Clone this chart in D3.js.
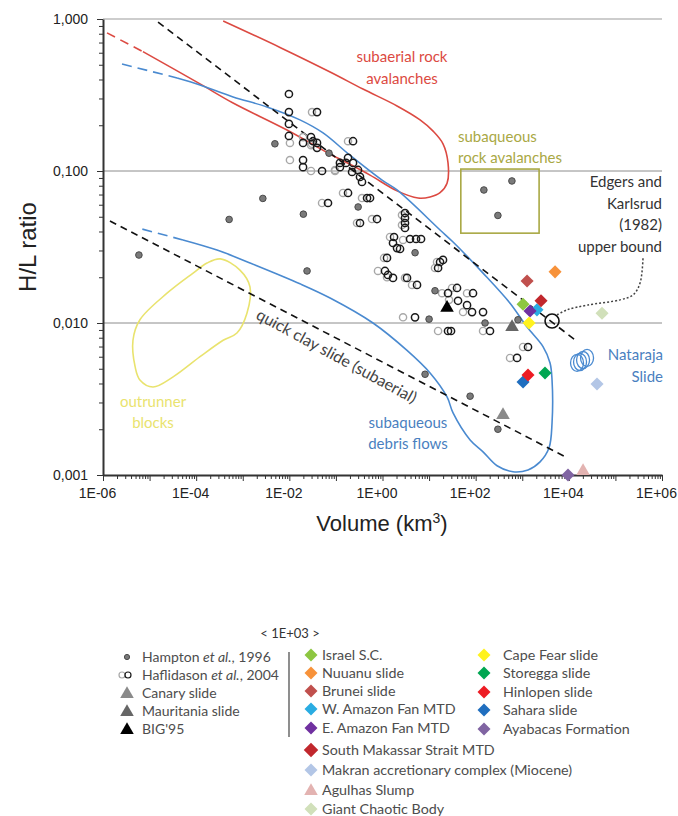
<!DOCTYPE html>
<html>
<head>
<meta charset="utf-8">
<script src="https://cdn.jsdelivr.net/npm/d3@7"></script>
<style>
  body { margin: 0; background: #fff; }
  svg text { font-family: "Lato", "Open Sans", sans-serif; }
</style>
</head>
<body>
<svg width="678" height="816"></svg>
<script>

// ---- data (volume in km3, H/L ratio) ----
let hampton = [
  [5.9e-6, 0.028], [5.1e-4, 0.048], [2.7e-3, 0.066], [4.9e-3, 0.151], [0.020, 0.052],
  [0.024, 0.022], [0.071, 0.131], [0.30, 0.058], [5.0, 0.029], [10, 0.0106],
  [13.4, 0.0163], [159, 0.0100], [810, 0.0105], [8.2, 0.0046], [76, 0.0033],
  [300, 0.0020], [600, 0.086], [150, 0.075], [300, 0.051]
];

let hafDark = [
  [0.0098, 0.321], [0.0098, 0.244], [0.0098, 0.204], [0.0098, 0.170],
  [0.0393, 0.244], [0.0292, 0.167], [0.0322, 0.157], [0.0197, 0.153], [0.0393, 0.153], [0.0393, 0.142],
  [0.0197, 0.118], [0.0197, 0.106], [0.0504, 0.100], [0.122, 0.106], [0.233, 0.157], [0.0676, 0.0616],
  [0.122, 0.113], [0.165, 0.113], [0.182, 0.122], [0.233, 0.113], [0.222, 0.0985], [0.298, 0.1016],
  [0.329, 0.0914], [0.363, 0.0847], [0.182, 0.0717], [0.466, 0.0664], [0.540, 0.0664], [0.762, 0.0483],
  [0.329, 0.0455], [3.04, 0.0529], [3.04, 0.0491], [3.04, 0.0455], [3.04, 0.0422],
  [1.77, 0.0368], [3.90, 0.0357], [5.25, 0.0357], [6.72, 0.0357], [1.68, 0.0336], [2.05, 0.0311], [2.38, 0.0307],
  [1.25, 0.0268], [15.6, 0.0230], [17.2, 0.0252], [19.9, 0.0260], [1.13, 0.0220], [1.31, 0.0207],
  [1.68, 0.0198], [3.36, 0.0198], [5.51, 0.0178], [25.5, 0.0157], [39.8, 0.0170], [87.7, 0.0157],
  [41.8, 0.0140], [65.3, 0.0131], [83.6, 0.0118], [144, 0.0118], [4.99, 0.0109],
  [25.5, 0.00886], [29.6, 0.00886], [203, 0.00886], [1330, 0.00695], [773, 0.00589]
];

let hafLight = [
  [0.0307, 0.244], [0.0197, 0.167], [0.0292, 0.148], [0.0103, 0.153], [0.0307, 0.151], [0.0103, 0.118],
  [0.0292, 0.100], [0.0957, 0.100], [0.182, 0.157], [0.0504, 0.0616], [0.0957, 0.1016], [0.142, 0.0717],
  [0.363, 0.0664], [0.595, 0.0483], [0.284, 0.0455], [2.62, 0.0513], [2.62, 0.0441], [1.45, 0.0368],
  [2.76, 0.0352], [1.08, 0.0268], [13.4, 0.0230], [14.8, 0.0252], [0.80, 0.0220], [3.04, 0.0198],
  [4.31, 0.0178], [19.0, 0.0157], [31.1, 0.0170], [65.3, 0.0157], [26.8, 0.0142], [53.6, 0.0118],
  [2.76, 0.0109], [15.6, 0.00886], [144, 0.00886], [1040, 0.00695], [547, 0.00589], [1.25, 0.0200]
];

let triNames = ["Canary slide", "Mauritania slide", "BIG'95"];
let triVolume = [386, 604, 24.3];
let triRatio = [0.00248, 0.00941, 0.0126];

let slideNames = ["Israel S.C.", "Nuuanu slide", "Brunei slide", "W. Amazon Fan MTD", "E. Amazon Fan MTD",
  "South Makassar Strait MTD", "Makran accretionary complex (Miocene)", "Agulhas Slump", "Giant Chaotic Body",
  "Cape Fear slide", "Storegga slide", "Hinlopen slide", "Sahara slide", "Ayabacas Formation"];
let slideVolume = [1040, 5060, 1270, 2070, 1470, 2530, 40300, 20200, 51600, 1400, 3080, 1330, 1040, 9600];
let slideRatio = [0.0133, 0.0217, 0.0189, 0.0122, 0.0120, 0.0140, 0.00397, 0.00103, 0.0116,
  0.0100, 0.00469, 0.00455, 0.00409, 0.0010];

let edgersPoint = [4360, 0.0103];
let natarajaVolume = [15000, 17400, 20200, 24600];
let natarajaRatio = [0.00546, 0.00554, 0.00571, 0.00589];

// envelopes and bounds
let edgersBound = [[1.52e-5, 0.955], [15700, 0.0075]];
let quickClay = [[1.41e-6, 0.0469], [9620, 0.00129]];
let rockDashed = [[1.22e-6, 0.81], [7.2e-6, 0.61]];
let rockOutline = [[7.2e-6, 0.61], [1.21e-4, 0.374], [6.2e-4, 0.28], [8.9e-3, 0.186], [0.075, 0.129],
  [0.157, 0.115], [0.54, 0.094], [2.05, 0.074], [5.8, 0.0664], [10.5, 0.0675], [17.2, 0.072],
  [24.3, 0.083], [25.5, 0.113], [19.9, 0.151], [12.2, 0.183], [6.4, 0.217], [2.05, 0.268],
  [0.38, 0.346], [0.075, 0.448], [6.3e-3, 0.65], [3.8e-4, 0.97]];
let debrisDashedTop = [[2.56e-6, 0.506], [3.9e-5, 0.409]];
let debrisDashedBottom = [[5.2e-5, 0.0352], [5.6e-6, 0.0422]];
let debrisOutline = [[3.9e-5, 0.409], [1.21e-4, 0.368], [6.2e-4, 0.307], [3.3e-3, 0.264], [1.69e-2, 0.217],
  [5.3e-2, 0.178], [0.20, 0.127], [0.98, 0.087], [2.05, 0.075], [17.2, 0.0409], [32.7, 0.0341],
  [144, 0.0213], [547, 0.0135], [1270, 0.0094], [2790, 0.0070], [3950, 0.00546], [4360, 0.00422],
  [4360, 0.0022], [3760, 0.00151], [2410, 0.00122], [1330, 0.00108], [634, 0.00105], [288, 0.00115],
  [144, 0.00142], [76, 0.0017], [32.7, 0.00256], [24.3, 0.00326], [10.5, 0.00469], [3.36, 0.0066],
  [0.625, 0.0100], [0.075, 0.0146], [1.69e-2, 0.0181], [1.43e-3, 0.0248], [2.8e-4, 0.0302], [5.2e-5, 0.0352]];
let outrunner = [[3.3e-4, 0.0264], [8.7e-4, 0.0223], [1.43e-3, 0.0173], [1.23e-3, 0.0116], [7.5e-4, 0.0086],
  [3.8e-4, 0.0077], [1.21e-4, 0.0060], [3.2e-5, 0.00442], [1.18e-5, 0.00379], [6.2e-6, 0.00422],
  [4.9e-6, 0.00514], [4.4e-6, 0.0077], [6.2e-6, 0.0105], [2.37e-5, 0.0157], [8.6e-5, 0.0213], [1.71e-4, 0.0248]];
let rockBox = [[48, 0.103], [2300, 0.039]];
let edgersLeader = [[5580, 0.0113], [9140, 0.0122], [24600, 0.0131], [125600, 0.0142], [239000, 0.0153],
  [338000, 0.0183], [392000, 0.0272]];

let yTickLabels = ["0,001", "0,010", "0,100", "1,000"];
let xTickLabels = ["1E-06", "1E-04", "1E-02", "1E+00", "1E+02", "1E+04", "1E+06"];

// ---- styles ----
let slideColors = ["#8dc641", "#f7923a", "#c0504d", "#2aace2", "#7030a0", "#c1272d", "#b3c6e6",
  "#e3b3b1", "#d1e0ba", "#fff21e", "#00a651", "#ed1c24", "#1f6ebf", "#8064a2"];
let triColors = ["#8a8a8a", "#666", "#000"];
let drawOrder = [0, 1, 2, 3, 4, 5, 6, 7, 8, 9, 10, 12, 11, 13];
let red = "#dc4a42", blue = "#4a8ad0", olive = "#a9a844", yellow = "#e9e36e";

let svg = d3.select("svg");
let x = d3.scaleLog().domain([1e-6, 1e6]).range([103, 662]);
let y = d3.scaleLog().domain([0.001, 1]).range([475, 19]);
let line = d3.line().x(d => x(d[0])).y(d => y(d[1]));
let smooth = d3.line().x(d => x(d[0])).y(d => y(d[1])).curve(d3.curveCatmullRom.alpha(0.5));

let isDecade = d => Math.abs(Math.log10(d) - Math.round(Math.log10(d))) < 1e-9;
let minorTicks = (lo, hi) => {
  let t = [];
  for (let e = lo; e < hi; e++) for (let m = 1; m < 10; m++) t.push(m * Math.pow(10, e));
  t.push(Math.pow(10, hi));
  return t;
};

// gridlines
svg.append("g").selectAll("line")
  .data([0.01, 0.1, 1])
  .enter().append("line")
    .attr("x1", x(1e-6)).attr("x2", x(1e6))
    .attr("y1", d => y(d)).attr("y2", d => y(d))
    .attr("stroke", d => d === 1 ? "#bdbdbd" : "#8c8c8c")
    .attr("stroke-width", d => d === 1 ? 1.6 : 1);

// axes
let yAxis = svg.append("g")
  .attr("transform", "translate(" + x(1e-6) + ",0)")
  .call(d3.axisLeft(y).tickValues(minorTicks(-3, 0)).tickSizeInner(4).tickSizeOuter(0)
    .tickPadding(11)
    .tickFormat(d => isDecade(d) ? yTickLabels[Math.round(Math.log10(d)) + 3] : ""));
yAxis.selectAll(".tick line").attr("x2", d => isDecade(d) ? -6 : -4);

let xAxis = svg.append("g")
  .attr("transform", "translate(0," + y(0.001) + ")")
  .call(d3.axisBottom(x).tickValues(minorTicks(-6, 6)).tickSizeInner(4).tickSizeOuter(0)
    .tickPadding(9)
    .tickFormat(d => isDecade(d) && Math.round(Math.log10(d)) % 2 === 0 ? xTickLabels[(Math.round(Math.log10(d)) + 6) / 2] : ""));
xAxis.selectAll(".tick line").attr("y2", d => isDecade(d) ? 6 : 4);
xAxis.selectAll(".tick text").attr("dx", -6);

[xAxis, yAxis].forEach(a => {
  a.select(".domain").attr("stroke", "#333").attr("stroke-width", 2);
  a.selectAll(".tick line").attr("stroke", "#333");
  a.selectAll(".tick text").attr("font-size", 14).attr("fill", "#222")
    .style("font-family", "'Liberation Sans', sans-serif");
});

svg.append("text")
  .attr("transform", "translate(36,247) rotate(-90)")
  .attr("text-anchor", "middle")
  .attr("font-size", 24).attr("fill", "#222")
  .style("font-family", "'Liberation Sans', sans-serif")
  .text("H/L ratio");

let xt = svg.append("text")
  .attr("x", 382).attr("y", 531)
  .attr("text-anchor", "middle")
  .attr("font-size", 22).attr("fill", "#222")
  .style("font-family", "'Liberation Sans', sans-serif");
xt.append("tspan").text("Volume (km");
xt.append("tspan").attr("dy", -8).attr("font-size", 14).text("3");
xt.append("tspan").attr("dy", 8).text(")");

// envelopes
let env = svg.append("g").attr("fill", "none");
env.append("path").attr("d", smooth(rockOutline)).attr("stroke", red).attr("stroke-width", 1.6);
env.append("path").attr("d", line(rockDashed)).attr("stroke", red).attr("stroke-width", 1.6)
  .attr("stroke-dasharray", "9,6");
env.append("path").attr("d", smooth(debrisOutline)).attr("stroke", blue).attr("stroke-width", 1.6);
env.append("path").attr("d", line(debrisDashedTop)).attr("stroke", blue).attr("stroke-width", 1.6)
  .attr("stroke-dasharray", "10,6");
env.append("path").attr("d", line(debrisDashedBottom)).attr("stroke", blue).attr("stroke-width", 1.6)
  .attr("stroke-dasharray", "10,6");
env.append("path").attr("d", d3.line().x(d => x(d[0])).y(d => y(d[1]))
    .curve(d3.curveCatmullRomClosed.alpha(0.5))(outrunner))
  .attr("stroke", yellow).attr("stroke-width", 1.6);
env.append("path").attr("d", line(edgersBound)).attr("stroke", "#111").attr("stroke-width", 1.6)
  .attr("stroke-dasharray", "7,5");
env.append("path").attr("d", line(quickClay)).attr("stroke", "#111").attr("stroke-width", 1.6)
  .attr("stroke-dasharray", "7,5");
env.append("rect")
  .attr("x", x(rockBox[0][0])).attr("y", y(rockBox[0][1]))
  .attr("width", x(rockBox[1][0]) - x(rockBox[0][0]))
  .attr("height", y(rockBox[1][1]) - y(rockBox[0][1]))
  .attr("stroke", olive).attr("stroke-width", 1.6);
env.append("path").attr("d", smooth(edgersLeader)).attr("stroke", "#444").attr("stroke-width", 1.5)
  .attr("stroke-dasharray", "2,2");

// points
let pts = svg.append("g");
pts.selectAll(".hl").data(hafLight).enter().append("circle")
  .attr("cx", d => x(d[0])).attr("cy", d => y(d[1])).attr("r", 3.6)
  .attr("fill", "none").attr("stroke", "#a8a8a8").attr("stroke-width", 1.4);
pts.selectAll(".hd").data(hafDark).enter().append("circle")
  .attr("cx", d => x(d[0])).attr("cy", d => y(d[1])).attr("r", 3.6)
  .attr("fill", "none").attr("stroke", "#1a1a1a").attr("stroke-width", 1.5);
pts.selectAll(".hp").data(hampton).enter().append("circle")
  .attr("cx", d => x(d[0])).attr("cy", d => y(d[1])).attr("r", 3.3)
  .attr("fill", "#7a7a7a").attr("stroke", "#4a4a4a").attr("stroke-width", 1);

pts.append("circle")
  .attr("cx", x(edgersPoint[0])).attr("cy", y(edgersPoint[1])).attr("r", 7)
  .attr("fill", "none").attr("stroke", "#111").attr("stroke-width", 1.6);

pts.selectAll(".nat").data(natarajaVolume).enter().append("ellipse")
  .attr("cx", d => x(d)).attr("cy", (d, i) => y(natarajaRatio[i]))
  .attr("rx", 6.5).attr("ry", 8.5)
  .attr("fill", "none").attr("stroke", blue).attr("stroke-width", 1.3);

let tri = d3.symbol(d3.symbolTriangle, 80);
let diamond = d3.symbol(d3.symbolSquare, 85);

pts.selectAll(".tri").data(triVolume).enter().append("path")
  .attr("d", tri)
  .attr("transform", (d, i) => "translate(" + x(d) + "," + y(triRatio[i]) + ")")
  .attr("fill", (d, i) => triColors[i]);

pts.selectAll(".slide").data(drawOrder).enter().append("path")
  .attr("d", i => slideNames[i] === "Agulhas Slump" ? tri() : diamond())
  .attr("transform", i => "translate(" + x(slideVolume[i]) + "," + (y(slideRatio[i]) - (slideNames[i] === "Agulhas Slump" ? 2 : 0)) + ")" +
    (slideNames[i] === "Agulhas Slump" ? "" : " rotate(45)"))
  .attr("fill", i => slideColors[i]);

// annotations
function label(lines, px, py, color, anchor, size, step) {
  let t = svg.append("text")
    .attr("text-anchor", anchor).attr("fill", color).attr("font-size", size);
  lines.forEach((s, i) => t.append("tspan").attr("x", px).attr("y", py + i * step).text(s));
  return t;
}
label(["subaerial rock", "avalanches"], 402, 62, red, "middle", 15, 22);
label(["subaqueous", "rock avalanches"], 458, 142, olive, "start", 15, 21);
label(["Edgers and", "Karlsrud", "(1982)", "upper bound"], 662, 187, "#333", "end", 15, 21.7);
label(["Nataraja", "Slide"], 663, 360, "#4a7fc0", "end", 15, 22);
label(["subaqueous", "debris flows"], 408, 428, "#4a7fc0", "middle", 15, 21);
label(["outrunner", "blocks"], 153, 407, yellow, "middle", 15, 21);
svg.append("text")
  .attr("transform", "translate(334,361) rotate(28.5)")
  .attr("text-anchor", "middle").attr("fill", "#444").attr("font-size", 16)
  .text("quick clay slide (subaerial)");

// legend
let lg = svg.append("g").attr("font-size", 14).attr("fill", "#4d4d4d");
lg.append("text").attr("x", 290).attr("y", 638).attr("text-anchor", "middle").attr("font-size", 13)
  .attr("fill", "#333").text("< 1E+03 >");

let leftRows = [657, 675, 693, 711, 729];
lg.append("circle").attr("cx", 127).attr("cy", leftRows[0]).attr("r", 2.6)
  .attr("fill", "#7a7a7a").attr("stroke", "#4a4a4a");
lg.append("circle").attr("cx", 122).attr("cy", leftRows[1]).attr("r", 3)
  .attr("fill", "none").attr("stroke", "#a8a8a8").attr("stroke-width", 1.2);
lg.append("circle").attr("cx", 128).attr("cy", leftRows[1]).attr("r", 3)
  .attr("fill", "none").attr("stroke", "#1a1a1a").attr("stroke-width", 1.2);
triNames.forEach((n, i) => {
  lg.append("path").attr("d", tri)
    .attr("transform", "translate(127," + (leftRows[i + 2] + 1) + ")")
    .attr("fill", triColors[i]);
});
let lt = lg.append("text").attr("x", 142).attr("y", leftRows[0] + 5);
lt.append("tspan").text("Hampton ");
lt.append("tspan").attr("font-style", "italic").text("et al.");
lt.append("tspan").text(", 1996");
lt = lg.append("text").attr("x", 142).attr("y", leftRows[1] + 5);
lt.append("tspan").text("Haflidason ");
lt.append("tspan").attr("font-style", "italic").text("et al.");
lt.append("tspan").text(", 2004");
triNames.forEach((n, i) => {
  lg.append("text").attr("x", 142).attr("y", leftRows[i + 2] + 5).text(n);
});
lg.append("line").attr("x1", 289).attr("x2", 289).attr("y1", 652).attr("y2", 737)
  .attr("stroke", "#444").attr("stroke-width", 1.2);

let rightRows = [655, 673, 691, 709, 728, 750, 770, 790, 809, 655, 673, 692, 710, 729];
slideNames.forEach((n, i) => {
  let col2 = i >= 9;
  let mx = col2 ? 484 : 311, tx = col2 ? 503 : 322;
  let isTri = n === "Agulhas Slump";
  lg.append("path")
    .attr("d", isTri ? tri : d3.symbol(d3.symbolSquare, n.startsWith("South") ? 105 : 85))
    .attr("transform", "translate(" + mx + "," + (rightRows[i] + (isTri ? 1 : 0)) + ")" + (isTri ? "" : " rotate(45)"))
    .attr("fill", slideColors[i]);
  lg.append("text").attr("x", tx).attr("y", rightRows[i] + 5).attr("font-size", 14.3).text(n);
});

</script>
</body>
</html>
